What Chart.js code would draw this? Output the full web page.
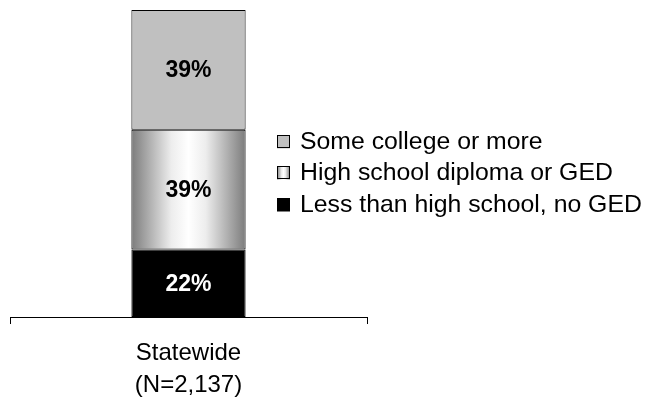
<!DOCTYPE html>
<html>
<head>
<meta charset="utf-8">
<title>Education level</title>
<script src="https://cdn.jsdelivr.net/npm/chart.js@4.4.1/dist/chart.umd.min.js"></script>
<style>
  html, body { margin: 0; padding: 0; background: #fff; overflow: hidden; }
  #wrap { width: 647px; height: 398px; position: relative; }
</style>
</head>
<body>
<div id="wrap"><canvas id="chart"></canvas></div>
<script>
const categories = [["Statewide", "(N=2,137)"]];
const seriesNames = ["Less than high school, no GED", "High school diploma or GED", "Some college or more"];
const lessThanHS = [22];
const hsDiploma = [39];
const someCollege = [39];

const FONT = "'Liberation Sans', Arial, Helvetica, sans-serif";
const BAR_PCT = 0.32;

function shinyGradient(ctx, x0, x1) {
  const g = ctx.createLinearGradient(x0, 0, x1, 0);
  g.addColorStop(0, "#7c7c7c");
  g.addColorStop(0.35, "#ededed");
  g.addColorStop(0.5, "#ffffff");
  g.addColorStop(0.65, "#ededed");
  g.addColorStop(1, "#7c7c7c");
  return g;
}

// middle segment gets a horizontal metallic gradient across the bar width
function middleFill(context) {
  const chart = context.chart;
  const x = chart.scales.x;
  if (!x || !chart.chartArea) return "#cccccc";
  const cx = x.getPixelForValue(context.dataIndex);
  const half = (x.width / categories.length) * BAR_PCT / 2;
  return shinyGradient(chart.ctx, cx - half, cx + half);
}

const segmentLabels = {
  id: "segmentLabels",
  afterDatasetsDraw(chart) {
    const ctx = chart.ctx;
    ctx.save();
    ctx.font = "bold 23px " + FONT;
    ctx.textAlign = "center";
    ctx.textBaseline = "middle";
    chart.data.datasets.forEach((ds, i) => {
      chart.getDatasetMeta(i).data.forEach((el, j) => {
        ctx.fillStyle = ds.labelColor;
        ctx.fillText(ds.data[j] + "%", el.x, (el.y + el.base) / 2 + 1);
      });
    });
    ctx.restore();
  }
};

// legend to the right of the plot, top series first
const sideLegend = {
  id: "sideLegend",
  afterDraw(chart) {
    const ctx = chart.ctx;
    const left = chart.chartArea.right + 277 - 367;
    const box = 13;
    ctx.save();
    ctx.font = "24.8px " + FONT;
    ctx.textBaseline = "middle";
    ctx.textAlign = "left";
    const order = chart.data.datasets.map((d, i) => i).reverse();
    order.forEach((di, row) => {
      const ds = chart.data.datasets[di];
      const y = 141 + row * 31.5;
      const bx = left, by = Math.round(y - box / 2) + 0.5;
      ctx.fillStyle = ds.gradient ? shinyGradient(ctx, bx, bx + box) : ds.backgroundColor;
      ctx.fillRect(bx, by, box, box);
      ctx.strokeStyle = "#000";
      ctx.lineWidth = 1;
      ctx.strokeRect(bx + 0.5, by, box - 1, box - 1);
      ctx.fillStyle = "#000";
      ctx.fillText(ds.label, left + 23, y + 1);
    });
    ctx.restore();
  }
};

new Chart(document.getElementById("chart"), {
  type: "bar",
  data: {
    labels: categories,
    datasets: [
      {
        label: seriesNames[0],
        data: lessThanHS,
        backgroundColor: "#000000",
        labelColor: "#ffffff"
      },
      {
        label: seriesNames[1],
        data: hsDiploma,
        backgroundColor: middleFill,
        gradient: true,
        labelColor: "#000000"
      },
      {
        label: seriesNames[2],
        data: someCollege,
        backgroundColor: "#c0c0c0",
        labelColor: "#000000"
      }
    ]
  },
  options: {
    responsive: true,
    maintainAspectRatio: false,
    animation: false,
    // the axis reserves its tick padding twice; pull the bottom back in
    layout: { padding: { left: 10, right: 280, top: 10, bottom: -16 } },
    datasets: {
      bar: {
        barPercentage: BAR_PCT,
        categoryPercentage: 1,
        borderColor: "#000",
        borderWidth: 1,
        borderSkipped: false
      }
    },
    scales: {
      x: {
        stacked: true,
        border: { display: true, color: "#000", width: 1 },
        grid: { display: true, drawOnChartArea: false, drawTicks: true, tickLength: 7, color: "#000" },
        ticks: {
          color: "#000",
          padding: 13,
          font: { family: FONT, size: 24, lineHeight: 1.333 }
        }
      },
      y: {
        stacked: true,
        display: false,
        min: 0,
        max: 100
      }
    },
    plugins: {
      legend: { display: false },
      tooltip: { enabled: false }
    }
  },
  plugins: [segmentLabels, sideLegend]
});
</script>
</body>
</html>
